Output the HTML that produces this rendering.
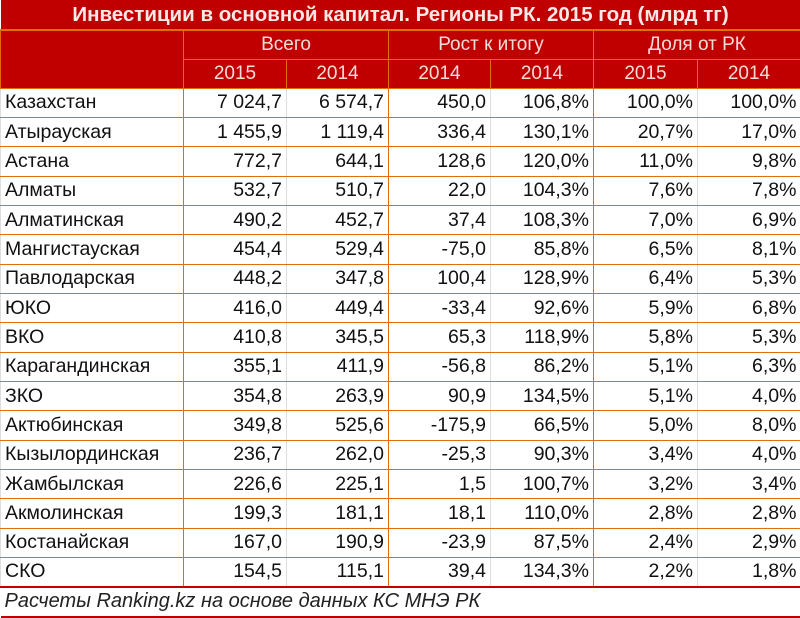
<!DOCTYPE html>
<html><head><meta charset="utf-8"><style>
body{margin:0;width:800px;height:618px;background:#fff;font-family:"Liberation Sans",sans-serif;overflow:hidden}
table{border-collapse:collapse;table-layout:fixed;width:800px}
td,th{padding:0 4px;white-space:nowrap;overflow:hidden;box-sizing:border-box}
.t{height:30px;background:#c00000;color:#fbe9e7;font-weight:bold;font-size:20.5px;text-align:center;border-bottom:2px solid #e46c0a}
.h th{background:#c00000;color:#f6dcd8;font-weight:normal;font-size:19px;text-align:center;border:1.5px solid #e46c0a;height:29px}
.d td{font-size:19.5px;color:#111;height:29.35px;border-bottom:1.5px solid #e46c0a;border-left:1px solid #ddd;text-align:right}
.d td:first-child{text-align:left;border-right:1.5px solid #e46c0a}
.d td.g{border-left:1.5px solid #e46c0a}
.f{font-style:italic;font-size:20px;color:#222;height:30px;border-top:2px solid #c00000;border-bottom:2px solid #c00000;text-align:left}
</style></head><body>
<table>
<colgroup><col style="width:183px"><col style="width:103px"><col style="width:102px"><col style="width:102px"><col style="width:103px"><col style="width:104px"><col style="width:103px"></colgroup>
<tr><td class="t" colspan="7">Инвестиции в основной капитал. Регионы РК. 2015 год (млрд тг)</td></tr>
<tr class="h"><th rowspan="2"></th><th colspan="2">Всего</th><th colspan="2">Рост к итогу</th><th colspan="2">Доля от РК</th></tr>
<tr class="h"><th>2015</th><th>2014</th><th>2014</th><th>2014</th><th>2015</th><th>2014</th></tr>
<tbody id="body"></tbody>
<tr><td class="f" colspan="7">Расчеты Ranking.kz на основе данных КС МНЭ РК</td></tr>
</table>
<script>
const regions=["Казахстан","Атырауская","Астана","Алматы","Алматинская","Мангистауская","Павлодарская","ЮКО","ВКО","Карагандинская","ЗКО","Актюбинская","Кызылординская","Жамбылская","Акмолинская","Костанайская","СКО"];
const total2015=["7 024,7","1 455,9","772,7","532,7","490,2","454,4","448,2","416,0","410,8","355,1","354,8","349,8","236,7","226,6","199,3","167,0","154,5"];
const total2014=["6 574,7","1 119,4","644,1","510,7","452,7","529,4","347,8","449,4","345,5","411,9","263,9","525,6","262,0","225,1","181,1","190,9","115,1"];
const growthAbs=["450,0","336,4","128,6","22,0","37,4","-75,0","100,4","-33,4","65,3","-56,8","90,9","-175,9","-25,3","1,5","18,1","-23,9","39,4"];
const growthPct=["106,8%","130,1%","120,0%","104,3%","108,3%","85,8%","128,9%","92,6%","118,9%","86,2%","134,5%","66,5%","90,3%","100,7%","110,0%","87,5%","134,3%"];
const share2015=["100,0%","20,7%","11,0%","7,6%","7,0%","6,5%","6,4%","5,9%","5,8%","5,1%","5,1%","5,0%","3,4%","3,2%","2,8%","2,4%","2,2%"];
const share2014=["100,0%","17,0%","9,8%","7,8%","6,9%","8,1%","5,3%","6,8%","5,3%","6,3%","4,0%","8,0%","4,0%","3,4%","2,8%","2,9%","1,8%"];
const body=document.getElementById('body');
regions.forEach((r,i)=>{
  const tr=document.createElement('tr');tr.className='d';
  
  
  const vals=[r,total2015[i],total2014[i],growthAbs[i],growthPct[i],share2015[i],share2014[i]];
  vals.forEach((v,j)=>{
    const td=document.createElement('td');td.textContent=v;
    if(j===3||j===5)td.className='g';
    
    
    tr.appendChild(td);
  });
  body.appendChild(tr);
});
</script>
</body></html>
